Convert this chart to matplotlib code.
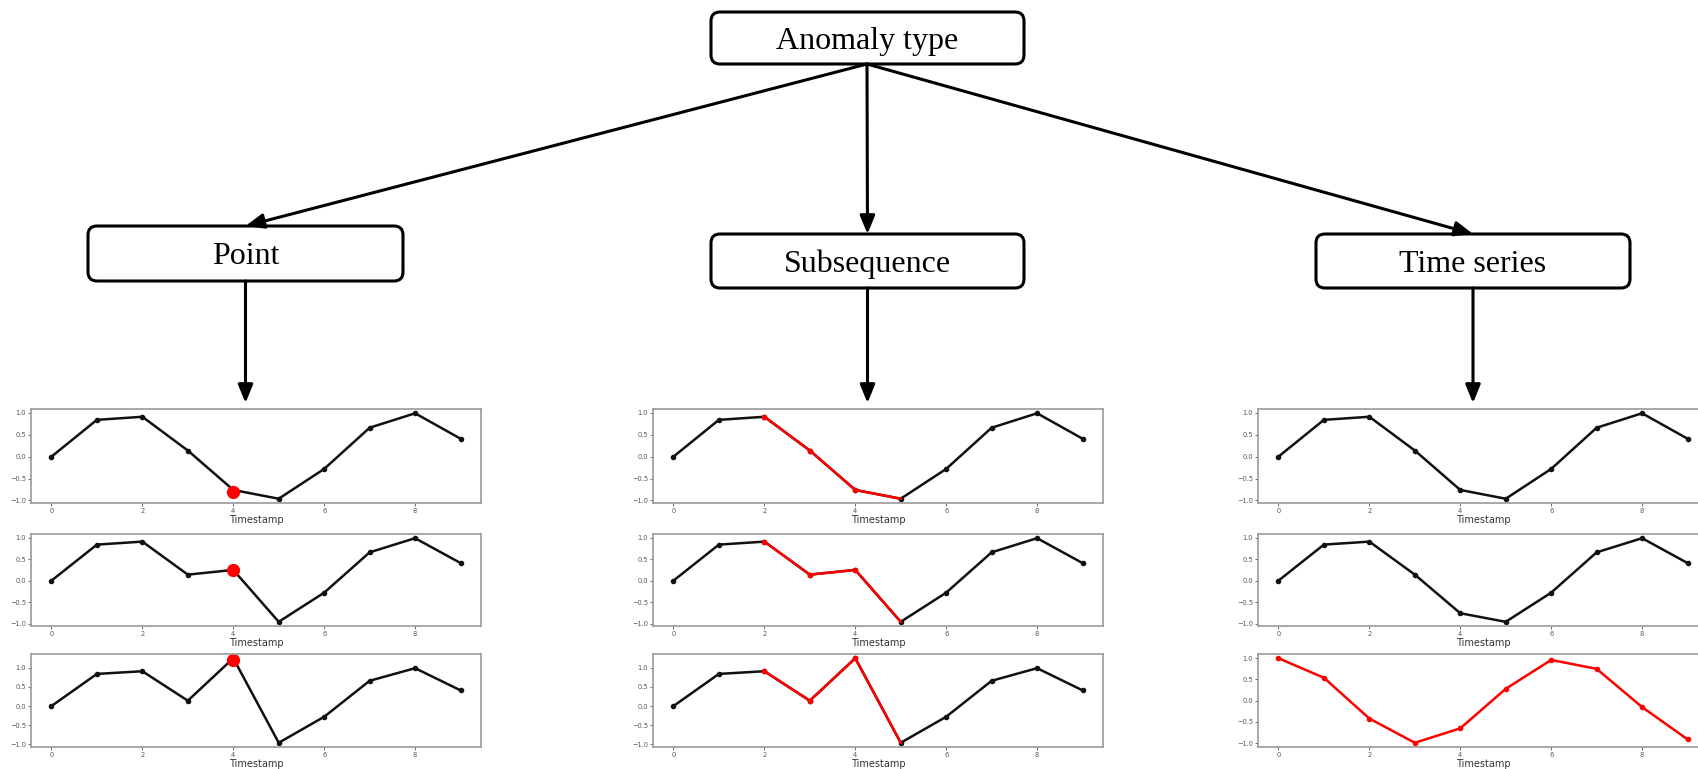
import matplotlib
matplotlib.use("Agg")
import matplotlib.pyplot as plt
from matplotlib.patches import FancyBboxPatch

# time axis shared by every small panel
timestamps = [0, 1, 2, 3, 4, 5, 6, 7, 8, 9]

# normal series
normal = [0.0, 0.84, 0.91, 0.14, -0.76, -0.96, -0.28, 0.66, 0.99, 0.41]
# series with a changed value at t=4
shift_mid = [0.0, 0.84, 0.91, 0.14, 0.25, -0.96, -0.28, 0.66, 0.99, 0.41]
shift_high = [0.0, 0.84, 0.91, 0.14, 1.25, -0.96, -0.28, 0.66, 0.99, 0.41]
# whole anomalous series
anomalous_series = [1.0, 0.54, -0.42, -0.99, -0.65, 0.28, 0.96, 0.75, -0.15, -0.91]

# point anomalies (t, value)
point_t = 4
point_vals = [-0.8, 0.25, 1.2]

# subsequence anomaly window
sub_start, sub_end = 2, 5

root_label = "Anomaly type"
branch_labels = ["Point", "Subsequence", "Time series"]

W, H = 1698, 769
fig = plt.figure(figsize=(W / 100, H / 100), dpi=100)

# overlay for the tree diagram, in pixel coordinates
ov = fig.add_axes([0, 0, 1, 1], zorder=0)
ov.set_xlim(0, W)
ov.set_ylim(H, 0)
ov.axis("off")

serif = "Liberation Serif"

def box(x0, y0, x1, y1, text):
    p = FancyBboxPatch((x0, y0), x1 - x0, y1 - y0,
                       boxstyle="round,pad=0,rounding_size=9",
                       fc="white", ec="black", lw=2.2)
    ov.add_patch(p)
    ov.text((x0 + x1) / 2, (y0 + y1) / 2 + 3, text, ha="center", va="center",
            fontsize=23, family=serif)

def arrow(x0, y0, x1, y1):
    ov.annotate("", xy=(x1, y1), xytext=(x0, y0),
                arrowprops=dict(arrowstyle="-|>,head_length=1.1,head_width=0.45",
                                color="black", lw=2.2, shrinkA=0, shrinkB=0))

box(711, 12, 1024, 64, root_label)
branch_boxes = [(88, 226, 403, 281), (711, 234, 1024, 288), (1316, 234, 1630, 288)]
for (x0, y0, x1, y1), lab in zip(branch_boxes, branch_labels):
    box(x0, y0, x1, y1, lab)
    cx = (x0 + x1) / 2
    arrow(867, 64, cx, y0)
    arrow(cx, y1, cx, 403)

# small panels
col_left = [31, 653, 1258]
row_top = [409, 534, 654]
row_h = [94, 92, 93]
panel_w = 450

def panel(col, row):
    l = col_left[col]
    t = row_top[row]
    ax = fig.add_axes([l / W, 1 - (t + row_h[row]) / H, panel_w / W, row_h[row] / H], zorder=1)
    for s in ax.spines.values():
        s.set_color("#9a9a9a")
        s.set_linewidth(1.2)
    ax.tick_params(labelsize=4.8, colors="#555555", length=2, width=0.6, pad=1.5)
    ax.set_xticks([0, 2, 4, 6, 8])
    ax.set_xlabel("Timestamp", fontsize=7, color="#333333", labelpad=1)
    return ax

line_kw = dict(lw=1.8, marker="o", markersize=3)

# Point column
for r, series in enumerate([normal, shift_mid, shift_high]):
    ax = panel(0, r)
    ax.plot(timestamps, series, color="#111111", **line_kw)
    ax.plot([point_t], [point_vals[r]], "o", color="red", markersize=8.5)

# Subsequence column
for r, series in enumerate([normal, shift_mid, shift_high]):
    ax = panel(1, r)
    ax.plot(timestamps, series, color="#111111", **line_kw)
    ax.plot(timestamps[sub_start:sub_end + 1], series[sub_start:sub_end + 1],
            color="red", lw=1.8, marker="o", markersize=3, markevery=[0, 1, 2])

# Time series column
for r in range(3):
    ax = panel(2, r)
    if r < 2:
        ax.plot(timestamps, normal, color="#111111", **line_kw)
    else:
        ax.plot(timestamps, anomalous_series, color="red", **line_kw)

fig.savefig("out.png", dpi=100, facecolor="white")
